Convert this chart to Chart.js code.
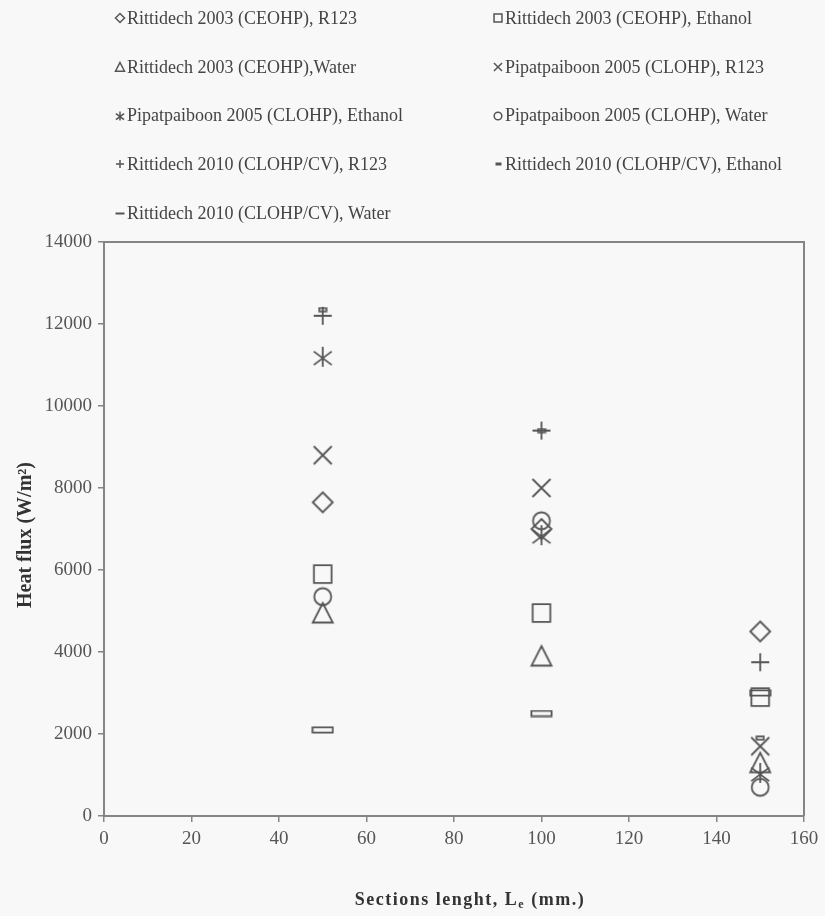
<!DOCTYPE html>
<html>
<head>
<meta charset="utf-8">
<script src="https://cdn.jsdelivr.net/npm/chart.js@4/dist/chart.umd.min.js"></script>
<style>
  html, body { margin: 0; padding: 0; background: #f8f8f8; }
  #wrap { width: 825px; height: 916px; }
</style>
</head>
<body>
<div id="wrap"><canvas id="myChart" width="825" height="916"></canvas></div>
<script>
// section length (mm.)
const xvalues = [50, 100, 150]

// heat flux (W/m2) for every study / fluid
const rit2003R123 = [7650, 7000, 4500]
const rit2003Ethanol = [5900, 4950, 2900]
const rit2003Water = [4950, 3900, 1300]
const pipat2005R123 = [8800, 8000, 1700]
const pipat2005Ethanol = [11200, 6850, 1050]
const pipat2005Water = [5350, 7200, 700]
const rit2010R123 = [12200, 9400, 3750]
const rit2010Ethanol = [12350, 9400, 1900]
const rit2010Water = [2100, 2500, 3000]

const seriesLabels = [
  'Rittidech 2003 (CEOHP), R123',
  'Rittidech 2003 (CEOHP), Ethanol',
  'Rittidech 2003 (CEOHP),Water',
  'Pipatpaiboon 2005 (CLOHP), R123',
  'Pipatpaiboon 2005 (CLOHP), Ethanol',
  'Pipatpaiboon 2005 (CLOHP), Water',
  'Rittidech 2010 (CLOHP/CV), R123',
  'Rittidech 2010 (CLOHP/CV), Ethanol',
  'Rittidech 2010 (CLOHP/CV), Water'
]
const seriesValues = [rit2003R123, rit2003Ethanol, rit2003Water, pipat2005R123,
  pipat2005Ethanol, pipat2005Water, rit2010R123, rit2010Ethanol, rit2010Water]
const markerKinds = ['diamond', 'square', 'triangle', 'cross', 'asterisk', 'circle', 'plus', 'dash', 'bar']

const yTicks = { min: 0, max: 14000, step: 2000 }
const xTicks = { min: 0, max: 160, step: 20 }

const markColor = '#555'
const axisColor = '#858585'
const serif = '"Liberation Serif", "Times New Roman", serif'

// build a little canvas with the marker glyph
function makeMarker(kind, r, lw) {
  const c = document.createElement('canvas')
  let w = Math.ceil(2 * r + 2 * lw + 2), h = w
  if (kind == 'bar') { w = Math.round(r * 2.3); h = Math.round(r * 0.75) }
  if (kind == 'dash') { w = Math.round(r * 0.95); h = Math.round(r * 0.6) }
  c.width = w; c.height = h
  const g = c.getContext('2d')
  g.strokeStyle = markColor
  g.lineWidth = lw
  const mx = w / 2, my = h / 2
  g.beginPath()
  if (kind == 'diamond') {
    g.moveTo(mx, my - r); g.lineTo(mx + r, my); g.lineTo(mx, my + r); g.lineTo(mx - r, my); g.closePath()
  } else if (kind == 'square') {
    const a = r * 0.88
    g.rect(mx - a, my - a, 2 * a, 2 * a)
  } else if (kind == 'triangle') {
    g.moveTo(mx, my - r); g.lineTo(mx + r, my + r * 0.95); g.lineTo(mx - r, my + r * 0.95); g.closePath()
  } else if (kind == 'cross') {
    const a = r * 0.9
    g.moveTo(mx - a, my - a); g.lineTo(mx + a, my + a); g.moveTo(mx + a, my - a); g.lineTo(mx - a, my + a)
  } else if (kind == 'asterisk') {
    const a = r * 0.9
    g.moveTo(mx, my - r); g.lineTo(mx, my + r)
    g.moveTo(mx - a, my - a * 0.6); g.lineTo(mx + a, my + a * 0.9)
    g.moveTo(mx + a, my - a * 0.6); g.lineTo(mx - a, my + a * 0.9)
  } else if (kind == 'circle') {
    g.arc(mx, my, r * 0.85, 0, Math.PI * 2)
  } else if (kind == 'plus') {
    const a = r * 0.9
    g.moveTo(mx, my - a); g.lineTo(mx, my + a); g.moveTo(mx - a, my); g.lineTo(mx + a, my)
  } else {
    g.rect(lw / 2 + 0.5, lw / 2 + 0.5, w - lw - 1, h - lw - 1)
  }
  g.stroke()
  return c
}

const bigMarkers = markerKinds.map(k => makeMarker(k, 10, 1.8))
const smallMarkers = markerKinds.map(k => makeMarker(k, 4.5, 1.5))
smallMarkers[8] = makeMarker('bar', 4.5, 1.6)
smallMarkers[7] = makeMarker('dash', 7, 1.4)

const datasets = seriesLabels.map((label, i) => ({
  label: label,
  data: xvalues.map((x, j) => ({ x: x, y: seriesValues[i][j] })),
  showLine: false,
  pointStyle: bigMarkers[i],
  pointRadius: 10,
  pointHoverRadius: 10
}))

const paperPlugin = {
  id: 'paper',
  beforeDraw(chart) {
    const ctx = chart.ctx
    ctx.save()
    ctx.fillStyle = '#f8f8f8'
    ctx.fillRect(0, 0, chart.width, chart.height)
    ctx.restore()
  },
  afterDraw(chart) {
    const ctx = chart.ctx
    const a = chart.chartArea
    ctx.save()
    // top and right frame lines
    ctx.strokeStyle = axisColor
    ctx.lineWidth = 2
    ctx.beginPath()
    ctx.moveTo(a.left, a.top); ctx.lineTo(a.right, a.top); ctx.lineTo(a.right, a.bottom)
    ctx.stroke()

    // legend, two columns
    ctx.fillStyle = '#444'
    ctx.font = '18px ' + serif
    ctx.textBaseline = 'middle'
    seriesLabels.forEach((label, i) => {
      const col = i % 2, row = Math.floor(i / 2)
      const sx = col == 0 ? 120 : 498
      const y = 18 + row * 48.8
      const m = smallMarkers[i]
      ctx.drawImage(m, Math.round(sx - m.width / 2), Math.round(y - m.height / 2))
      ctx.fillText(label, sx + 7, y + 1)
    })

    // axis titles
    ctx.fillStyle = '#333'
    ctx.font = 'bold 20px ' + serif
    ctx.textAlign = 'center'
    ctx.save()
    ctx.translate(26, 535)
    ctx.rotate(-Math.PI / 2)
    ctx.fillText('Heat flux (W/m²)', 0, 0)
    ctx.restore()

    const p1 = 'Sections lenght, L', p2 = 'e', p3 = ' (mm.)'
    ctx.letterSpacing = '1.5px'
    ctx.font = 'bold 18px ' + serif
    const w1 = ctx.measureText(p1).width, w3 = ctx.measureText(p3).width
    ctx.font = 'bold 12px ' + serif
    const w2 = ctx.measureText(p2).width
    let x0 = 470 - (w1 + w2 + w3) / 2
    ctx.textAlign = 'left'
    ctx.font = 'bold 18px ' + serif
    ctx.fillText(p1, x0, 900)
    ctx.font = 'bold 12px ' + serif
    ctx.fillText(p2, x0 + w1, 905)
    ctx.font = 'bold 18px ' + serif
    ctx.fillText(p3, x0 + w1 + w2, 900)
    ctx.restore()
  }
}

new Chart('myChart', {
  type: 'scatter',
  data: { datasets: datasets },
  options: {
    responsive: false,
    animation: false,
    layout: { padding: { top: 242, right: 21, left: 0, bottom: 0 } },
    plugins: { legend: { display: false }, tooltip: { enabled: false } },
    scales: {
      x: {
        type: 'linear',
        min: xTicks.min, max: xTicks.max,
        afterFit(scale) { scale.height = 100 },
        ticks: { stepSize: xTicks.step, color: '#555', padding: 6, font: { family: serif, size: 19 }, callback: v => String(v) },
        grid: { drawOnChartArea: false, color: axisColor, lineWidth: 1.5, tickLength: 6 },
        border: { color: axisColor, width: 2 }
      },
      y: {
        min: yTicks.min, max: yTicks.max,
        afterFit(scale) { scale.width = 104 },
        ticks: { stepSize: yTicks.step, color: '#555', padding: 6, font: { family: serif, size: 19 }, callback: v => String(v) },
        grid: { drawOnChartArea: false, color: axisColor, lineWidth: 1.5, tickLength: 6 },
        border: { color: axisColor, width: 2 }
      }
    }
  },
  plugins: [paperPlugin]
})
</script>
</body>
</html>
